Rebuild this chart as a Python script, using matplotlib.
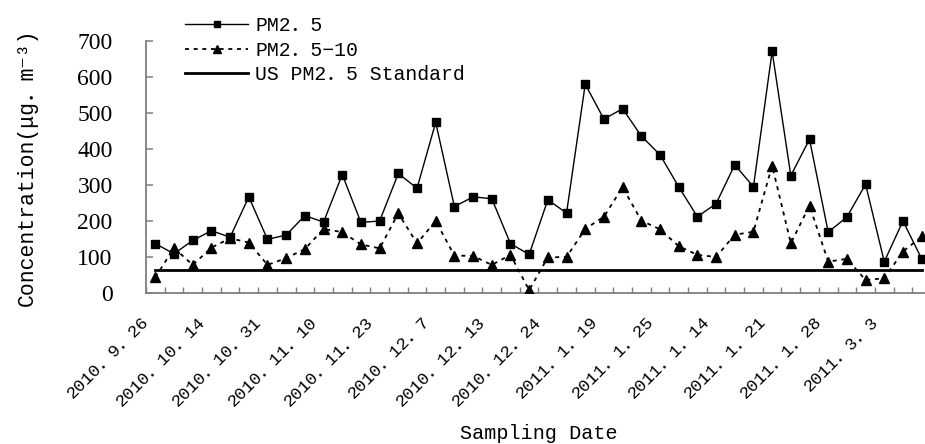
import matplotlib
matplotlib.use("Agg")
import matplotlib.pyplot as plt
import matplotlib.transforms as mtransforms
import numpy as np

# ---- data -------------------------------------------------------------
pm25 = [137, 109, 146, 173, 155, 267, 149, 161, 215, 197, 329, 196, 200, 332,
        291, 474, 240, 267, 262, 137, 107, 259, 222, 580, 483, 512, 436, 384,
        295, 212, 248, 356, 295, 671, 326, 427, 169, 211, 302, 87, 200, 95]
pm25_10 = [44, 125, 78, 126, 152, 140, 78, 97, 122, 178, 169, 135, 124, 221,
           138, 200, 104, 103, 78, 106, 8, 99, 100, 178, 212, 294, 201, 177,
           130, 106, 100, 162, 170, 354, 138, 243, 87, 95, 36, 41, 115, 157]
us_standard = 65
date_labels = ["2010．9．26", "2010．10．14", "2010．10．31", "2010．11．10",
               "2010．11．23", "2010．12．7", "2010．12．13", "2010．12．24",
               "2011．1．19", "2011．1．25", "2011．1．14", "2011．1．21",
               "2011．1．28", "2011．3．3"]
label_step = 3
y_ticks = [0, 100, 200, 300, 400, 500, 600, 700]
series_names = ["PM2．5", "PM2．5−10", "US PM2．5 Standard"]

# ---- style -------------------------------------------------------------
MONO = ["Liberation Mono", "Noto Sans CJK SC", "DejaVu Sans"]

W, H = 925, 444
fig = plt.figure(figsize=(W / 100, H / 100), dpi=100)
ax_left, ax_right, ax_top, ax_bottom = 146, 931, 41, 293
ax = fig.add_axes([ax_left / W, 1 - ax_bottom / H,
                   (ax_right - ax_left) / W, (ax_bottom - ax_top) / H])

n = len(pm25)
x = np.arange(n)

ax.plot(x, [us_standard] * n, color="black", lw=2.0, zorder=2,
        label=series_names[2])
ax.plot(x, pm25, color="black", lw=1.0, marker="s", ms=5.6,
        zorder=3, label=series_names[0])
ax.plot(x, pm25_10, color="black", lw=1.3, linestyle=(0, (2.2, 2.6)),
        marker="^", ms=7.4, zorder=4, label=series_names[1])

ax.set_xlim(-0.5, n - 0.5)
ax.set_ylim(0, 700)

# spines
for s in ["top", "right"]:
    ax.spines[s].set_visible(False)
for s in ["left", "bottom"]:
    ax.spines[s].set_color("#7f7f7f")
    ax.spines[s].set_linewidth(1.3)

# y axis
ax.set_yticks(y_ticks)
ax.set_yticklabels([str(v) for v in y_ticks])
ax.tick_params(axis="y", direction="in", length=5, width=1.1,
               color="#7f7f7f", pad=24, labelsize=17,
               labelfontfamily="Liberation Serif")

# x axis: boundary ticks (minor) and labels every 3 categories (major)
ax.set_xticks(np.arange(-0.5, n, 1.0), minor=True)
ax.set_xticks(x[::label_step])
ax.set_xticklabels(date_labels, family=MONO, fontsize=12.6, rotation=45,
                   ha="right", va="top", rotation_mode="anchor")
ax.tick_params(axis="x", which="major", length=0, pad=0)
ax.tick_params(axis="x", which="minor", direction="in", length=4.3,
               width=1.0, color="#7f7f7f")
shift = mtransforms.ScaledTranslation(-14 / 100, -21 / 100, fig.dpi_scale_trans)
for lab in ax.get_xticklabels():
    lab.set_transform(lab.get_transform() + shift)

# labels
ax.set_xlabel("Sampling Date", family=MONO, fontsize=14.5)
ax.xaxis.set_label_coords(0.5, (ax_bottom - 433) / (ax_bottom - ax_top))
ax.xaxis.label.set_va("center")
ax.set_ylabel("Concentration(μg．m⁻³)", family=MONO, fontsize=15.5)
ax.yaxis.set_label_coords((27 - ax_left) / (ax_right - ax_left), 0.5)
ax.yaxis.label.set_va("center")

# legend
handles, labels = ax.get_legend_handles_labels()
order = [1, 2, 0]
leg = ax.legend([handles[i] for i in order], [labels[i] for i in order],
                loc="upper left", bbox_to_anchor=(185 / W, 1 - 16 / H),
                bbox_transform=fig.transFigure, frameon=False,
                prop={"family": MONO, "size": 14.2},
                handlelength=3.2, handletextpad=0.35, borderpad=0,
                borderaxespad=0, labelspacing=0.28, markerscale=0.75)

fig.savefig("out.png", dpi=100, facecolor="white")
